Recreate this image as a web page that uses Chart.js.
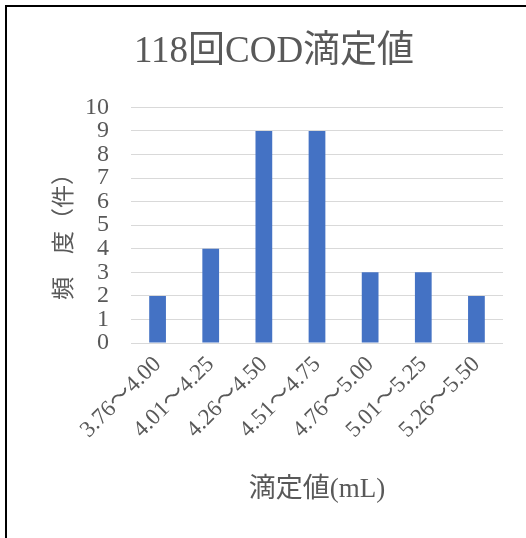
<!DOCTYPE html>
<html>
<head>
<meta charset="utf-8">
<script src="https://cdn.jsdelivr.net/npm/chart.js@4"></script>
<style>
  html, body { margin: 0; padding: 0; background: #fff; }
  #wrap { position: relative; width: 526px; height: 538px; overflow: hidden; }
  #frame { position: absolute; left: 5px; top: 5px; width: 600px; height: 600px;
           border-left: 2px solid #000; border-top: 2px solid #000; box-sizing: border-box; }
  canvas { position: absolute; left: 0; top: 0; }
</style>
</head>
<body>
<div id="wrap">
  <div id="frame"></div>
  <canvas id="c" width="526" height="538"></canvas>
</div>
<script>
// Frequency of COD titration values per 0.25 mL bin
const categories = ['3.76～4.00', '4.01～4.25', '4.26～4.50', '4.51～4.75', '4.76～5.00', '5.01～5.25', '5.26～5.50'];
const counts = [2, 4, 9, 9, 3, 3, 2];
const yTicks = [0, 1, 2, 3, 4, 5, 6, 7, 8, 9, 10];

const FONT = '"Liberation Serif", "DejaVu Serif", "Noto Sans CJK JP", serif';
const CJK = '"Noto Sans CJK JP", "Liberation Serif", serif';
const GREY = '#595959';

new Chart(document.getElementById('c'), {
  type: 'bar',
  data: {
    labels: categories,
    datasets: [{
      data: counts,
      backgroundColor: '#4472c4',
      borderWidth: 0,
      barPercentage: 0.315,
      categoryPercentage: 1.0
    }]
  },
  options: {
    responsive: false,
    animation: false,
    devicePixelRatio: 1,
    layout: { padding: { top: 10, left: 45, right: 23, bottom: 30 } },
    plugins: {
      legend: { display: false },
      tooltip: { enabled: false },
      title: {
        display: true,
        text: '118回COD滴定値',
        color: GREY,
        font: { family: FONT, size: 37, weight: 'normal' },
        padding: { top: 20, bottom: 33 }
      }
    },
    scales: {
      y: {
        min: 0, max: 10,
        afterBuildTicks: (s) => { s.ticks = yTicks.map(v => ({ value: v })); },
        afterFit: (s) => { s.width = 86; },
        border: { display: false },
        grid: { color: '#d9d9d9', lineWidth: 1, drawTicks: false },
        ticks: {
          color: GREY,
          padding: 22,
          autoSkip: false,
          font: { family: FONT, size: 24 }
        },
        title: {
          display: true,
          text: '頻　度（件）　',
          color: GREY,
          font: { family: CJK, size: 23 },
          padding: { top: 3, bottom: 0 }
        }
      },
      x: {
        afterFit: (s) => { s.height = 165; },
        border: { display: false },
        grid: { display: false, drawTicks: false },
        ticks: {
          color: GREY,
          padding: 8,
          minRotation: 45,
          maxRotation: 45,
          autoSkip: false,
          font: { family: FONT, size: 23 }
        },
        title: {
          display: true,
          text: '滴定値(mL)',
          color: GREY,
          font: { family: FONT, size: 27 },
          padding: { top: 0, bottom: 2 }
        }
      }
    }
  }
});
</script>
</body>
</html>
